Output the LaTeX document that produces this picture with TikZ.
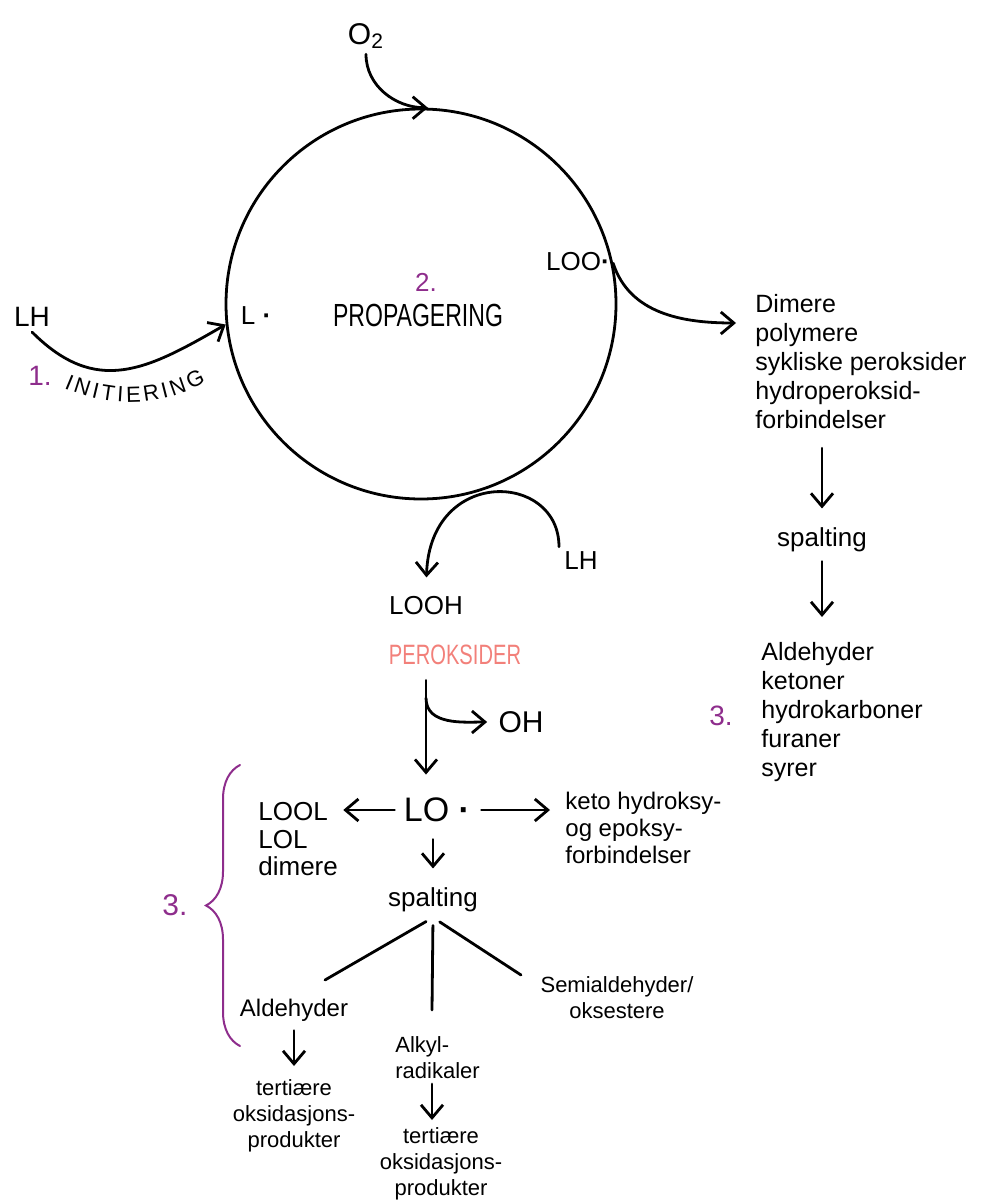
\documentclass[tikz,border=0pt]{standalone}
\usepackage{fontspec}
\setmainfont{Liberation Sans}
\newfontfamily\smalfont{Liberation Sans}[FakeStretch=0.72]
\usepackage{tikz}
\usetikzlibrary{arrows.meta,positioning,decorations.pathreplacing,decorations.text}
\definecolor{lilla}{RGB}{142,45,140}
\definecolor{laks}{RGB}{242,128,122}
\newcommand{\radik}{\textbf{·}}
\tikzstyle{arrow} = [->, >={Straight Barb[length=6.5pt,width=11pt]}]
\tikzstyle{caps} = [font=\fontsize{13}{15}\selectfont]
\tikzstyle{hand} = [font=\fontsize{12.5}{14.5}\selectfont, align=left]
\tikzstyle{liten} = [font=\fontsize{11}{13}\selectfont, align=center]
\tikzstyle{nr} = [text=lilla, font=\fontsize{15}{18}\selectfont]

\begin{document}
\begin{tikzpicture}[x=0.5pt, y=-0.5pt, line width=1.4pt, inner sep=2pt, line cap=round]
      \useasboundingbox (0,0) rectangle (982,1204);
      %syklusen
      \node[draw, circle, minimum size=195pt, inner sep=0pt](cyc) at (421,304){};
      \node[caps, font=\fontsize{15}{17}\selectfont](o2) at (366,36){O\textsubscript{2}};
      \node[caps, font=\fontsize{14}{16}\selectfont](lh1) at (32,317){LH};
      \node[caps](ldot) at (256,316){L\ \radik};
      \node[nr, font=\fontsize{13}{15}\selectfont](nr2) at (426,282){2.};
      \node[caps, font=\fontsize{16}{18}\smalfont](prop) at (418,315){PROPAGERING};
      \node[caps](loo) at (578,262){LOO\radik};
      \node[nr, font=\fontsize{14}{16}\selectfont](nr1) at (40,376){1.};
      \path[decorate, decoration={text along path, text={|\fontsize{11}{13}\selectfont|INITIERING}, text align=fit to path}]
        (64,388) .. controls (110,408) and (158,408) .. (206,382);
      \draw[arrow] (o2.south) to[out=-90, in=180] (cyc.88);
      \draw[arrow] (lh1.south) to[out=-45, in=210, looseness=1.2] (cyc.186);
      %høyre gren
      \coordinate (dimin) at (736,323);
      \draw[arrow] (cyc.12) to[out=-72, in=180] (dimin);
      \node[hand, anchor=north west](dimere) at (750,289){Dimere\\polymere\\sykliske peroksider\\hydroperoksid-\\forbindelser};
      \node[hand, font=\fontsize{13}{15}\selectfont](spalt1) at (822,540){spalting};
      \node[hand, anchor=north west](aldlist) at (756,637){Aldehyder\\ketoner\\hydrokarboner\\furaner\\syrer};
      \node[nr, font=\fontsize{14}{16}\selectfont](nr3a) at (721,716){3.};
      \draw[arrow, shorten <=7pt, shorten >=7pt] (dimere.south -| spalt1.north) -- (spalt1.north);
      \draw[arrow, shorten <=2pt, shorten >=10pt] (spalt1.south) -- (aldlist.north -| spalt1.south);
      %peroksider
      \node[caps](lh2) at (581,561){LH};
      \node[caps](looh) at (426,606){LOOH};
      \draw[arrow, shorten >=7pt] (lh2.north west) .. controls +(0,-75) and +(4,-125) .. (looh.north);
      \node[caps, font=\fontsize{14}{16}\smalfont, text=laks](perok) at (455,655){PEROKSIDER};
      \node[caps, font=\fontsize{15}{17}\selectfont](oh) at (521,722){OH};
      \node[caps, font=\fontsize{17}{19}\selectfont](lo) at (437,810){LO \radik};
      \coordinate (ohsplit) at (426,698);
      \draw[arrow, shorten <=5pt, shorten >=9pt] (perok.south -| looh) -- (lo.north -| looh);
      \draw[arrow, shorten >=3pt] (ohsplit) to[out=-90, in=180] (oh.west);
      %nedbrytning
      \node[hand, font=\fontsize{13}{13.75}\selectfont, anchor=north west](lool) at (253,797){LOOL\\LOL\\dimere};
      \node[hand, font=\fontsize{12}{13.5}\selectfont, anchor=north west](keto) at (560,787){keto hydroksy-\\og epoksy-\\forbindelser};
      \draw[arrow, shorten <=2pt] (lo.west) -- (lool.east |- lo.west);
      \draw[arrow, shorten <=3pt, shorten >=5pt] (lo.east) -- (keto.west |- lo.east);
      \node[hand, font=\fontsize{13}{15}\selectfont](spalt2) at (433,900){spalting};
      \draw[arrow, shorten <=6pt, shorten >=7pt] (lo.south -| spalt2) -- (spalt2.north);
      \coordinate (grenV) at (325,980);
      \coordinate (grenM) at (432,1010);
      \coordinate (grenH) at (521,975);
      \draw[shorten <=4pt] (spalt2.south) -- (grenV);
      \draw[shorten <=4pt] (spalt2.south) -- (grenM);
      \draw[shorten <=4pt] (spalt2.south) -- (grenH);
      \node[hand, font=\fontsize{12}{14}\selectfont](ald) at (294,1010){Aldehyder};
      \node[liten, anchor=north](tert1) at (294,1074){tertiære\\oksidasjons-\\produkter};
      \draw[arrow, shorten <=2pt, shorten >=4pt] (ald.south) -- (tert1.north);
      \node[liten, align=left, anchor=north west](alkyl) at (390,1031){Alkyl-\\radikaler};
      \node[liten, anchor=north](tert2) at (441,1122){tertiære\\oksidasjons-\\produkter};
      \draw[arrow, shorten >=1pt] (alkyl.south -| grenM) -- (tert2.north -| grenM);
      \node[liten](semi) at (617,998){Semialdehyder/\\oksestere};
      \draw[lilla, line width=1pt, decorate, decoration={brace, amplitude=17pt}] (240,1046) -- (240,765);
      \node[nr](nr3b) at (175,905){3.};
\end{tikzpicture}
\end{document}
